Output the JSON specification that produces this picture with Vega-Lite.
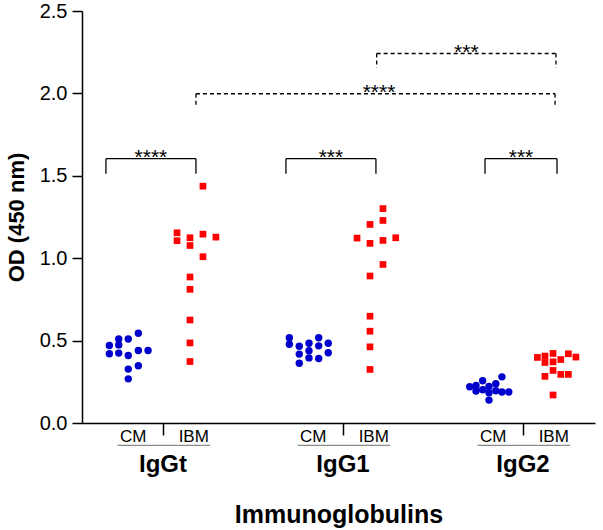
{
  "$schema": "https://vega.github.io/schema/vega-lite/v6.json",
  "width": 513,
  "height": 412,
  "autosize": {"type": "none"},
  "padding": {"left": 82, "top": 11, "right": 8, "bottom": 107},
  "background": "white",
  "config": {
    "view": {"stroke": null},
    "font": "Liberation Sans",
    "axis": {
      "domainColor": "black", "domainWidth": 1.5, "tickColor": "black", "tickWidth": 1.5,
      "labelColor": "black", "titleColor": "black", "grid": false,
      "labelFont": "Liberation Sans", "titleFont": "Liberation Sans"
    }
  },
  "datasets": {
    "points": [
      {"g":"IgGt","c":"CM","x":0.702,"od":0.47},{"g":"IgGt","c":"CM","x":0.754,"od":0.51},{"g":"IgGt","c":"CM","x":0.807,"od":0.51},{"g":"IgGt","c":"CM","x":0.863,"od":0.545},{"g":"IgGt","c":"CM","x":0.754,"od":0.474},{"g":"IgGt","c":"CM","x":0.702,"od":0.42},{"g":"IgGt","c":"CM","x":0.754,"od":0.424},{"g":"IgGt","c":"CM","x":0.807,"od":0.41},{"g":"IgGt","c":"CM","x":0.863,"od":0.44},{"g":"IgGt","c":"CM","x":0.917,"od":0.44},{"g":"IgGt","c":"CM","x":0.807,"od":0.327},{"g":"IgGt","c":"CM","x":0.863,"od":0.347},{"g":"IgGt","c":"CM","x":0.807,"od":0.268},
      {"g":"IgGt","c":"IBM","x":1.222,"od":1.437},{"g":"IgGt","c":"IBM","x":1.078,"od":1.154},{"g":"IgGt","c":"IBM","x":1.078,"od":1.106},{"g":"IgGt","c":"IBM","x":1.15,"od":1.124},{"g":"IgGt","c":"IBM","x":1.15,"od":1.077},{"g":"IgGt","c":"IBM","x":1.222,"od":1.146},{"g":"IgGt","c":"IBM","x":1.294,"od":1.128},{"g":"IgGt","c":"IBM","x":1.222,"od":1.009},{"g":"IgGt","c":"IBM","x":1.15,"od":0.886},{"g":"IgGt","c":"IBM","x":1.15,"od":0.811},{"g":"IgGt","c":"IBM","x":1.15,"od":0.625},{"g":"IgGt","c":"IBM","x":1.15,"od":0.486},{"g":"IgGt","c":"IBM","x":1.15,"od":0.373},
      {"g":"IgG1","c":"CM","x":1.702,"od":0.517},{"g":"IgG1","c":"CM","x":1.702,"od":0.478},{"g":"IgG1","c":"CM","x":1.757,"od":0.466},{"g":"IgG1","c":"CM","x":1.811,"od":0.484},{"g":"IgG1","c":"CM","x":1.865,"od":0.517},{"g":"IgG1","c":"CM","x":1.865,"od":0.468},{"g":"IgG1","c":"CM","x":1.918,"od":0.484},{"g":"IgG1","c":"CM","x":1.757,"od":0.418},{"g":"IgG1","c":"CM","x":1.811,"od":0.438},{"g":"IgG1","c":"CM","x":1.918,"od":0.426},{"g":"IgG1","c":"CM","x":1.811,"od":0.395},{"g":"IgG1","c":"CM","x":1.865,"od":0.391},{"g":"IgG1","c":"CM","x":1.757,"od":0.363},
      {"g":"IgG1","c":"IBM","x":2.222,"od":1.301},{"g":"IgG1","c":"IBM","x":2.222,"od":1.229},{"g":"IgG1","c":"IBM","x":2.15,"od":1.205},{"g":"IgG1","c":"IBM","x":2.078,"od":1.122},{"g":"IgG1","c":"IBM","x":2.15,"od":1.09},{"g":"IgG1","c":"IBM","x":2.222,"od":1.108},{"g":"IgG1","c":"IBM","x":2.293,"od":1.124},{"g":"IgG1","c":"IBM","x":2.222,"od":0.962},{"g":"IgG1","c":"IBM","x":2.15,"od":0.892},{"g":"IgG1","c":"IBM","x":2.15,"od":0.648},{"g":"IgG1","c":"IBM","x":2.15,"od":0.557},{"g":"IgG1","c":"IBM","x":2.15,"od":0.462},{"g":"IgG1","c":"IBM","x":2.15,"od":0.325},
      {"g":"IgG2","c":"CM","x":2.883,"od":0.28},{"g":"IgG2","c":"CM","x":2.776,"od":0.256},{"g":"IgG2","c":"CM","x":2.849,"od":0.238},{"g":"IgG2","c":"CM","x":2.704,"od":0.22},{"g":"IgG2","c":"CM","x":2.739,"od":0.228},{"g":"IgG2","c":"CM","x":2.811,"od":0.222},{"g":"IgG2","c":"CM","x":2.739,"od":0.194},{"g":"IgG2","c":"CM","x":2.776,"od":0.202},{"g":"IgG2","c":"CM","x":2.811,"od":0.184},{"g":"IgG2","c":"CM","x":2.849,"od":0.196},{"g":"IgG2","c":"CM","x":2.883,"od":0.188},{"g":"IgG2","c":"CM","x":2.921,"od":0.188},{"g":"IgG2","c":"CM","x":2.811,"od":0.139},
      {"g":"IgG2","c":"IBM","x":3.08,"od":0.398},{"g":"IgG2","c":"IBM","x":3.122,"od":0.406},{"g":"IgG2","c":"IBM","x":3.122,"od":0.367},{"g":"IgG2","c":"IBM","x":3.167,"od":0.422},{"g":"IgG2","c":"IBM","x":3.167,"od":0.371},{"g":"IgG2","c":"IBM","x":3.21,"od":0.385},{"g":"IgG2","c":"IBM","x":3.252,"od":0.42},{"g":"IgG2","c":"IBM","x":3.294,"od":0.4},{"g":"IgG2","c":"IBM","x":3.122,"od":0.283},{"g":"IgG2","c":"IBM","x":3.167,"od":0.319},{"g":"IgG2","c":"IBM","x":3.21,"od":0.295},{"g":"IgG2","c":"IBM","x":3.252,"od":0.295},{"g":"IgG2","c":"IBM","x":3.167,"od":0.17}
    ],
    "brackets": [
      {"x1":0.683,"x2":1.183,"mid":0.933,"top":1.604,"leg":1.513,"stars":"****","style":"solid"},
      {"x1":1.683,"x2":2.183,"mid":1.933,"top":1.604,"leg":1.513,"stars":"***","style":"solid"},
      {"x1":2.789,"x2":3.189,"mid":2.989,"top":1.604,"leg":1.513,"stars":"***","style":"solid"},
      {"x1":1.183,"x2":3.178,"mid":2.2,"top":1.998,"leg":1.913,"stars":"****","style":"dashed"},
      {"x1":2.187,"x2":3.183,"mid":2.685,"top":2.242,"leg":2.155,"stars":"***","style":"dashed"}
    ],
    "groups": [
      {"g":"IgGt","x":1,"lo":0.748,"hi":1.262},
      {"g":"IgG1","x":2,"lo":1.748,"hi":2.262},
      {"g":"IgG2","x":3,"lo":2.748,"hi":3.262}
    ]
  },
  "layer": [
    {
      "data": {"name": "groups"},
      "mark": {"type": "rule", "color": "#8a8a8a", "strokeWidth": 1.2},
      "encoding": {
        "x": {"field": "lo", "type": "quantitative", "scale": {"domain": [0.55, 3.4]}},
        "x2": {"field": "hi"},
        "y": {"datum": -0.136, "type": "quantitative"}
      }
    },
    {
      "data": {"name": "groups"},
      "mark": {"type": "text", "fontSize": 24, "fontWeight": "bold", "color": "black", "baseline": "alphabetic"},
      "encoding": {
        "x": {"field": "x", "type": "quantitative"},
        "y": {"datum": -0.297, "type": "quantitative"},
        "text": {"field": "g"}
      }
    },
    {
      "data": {"name": "points"},
      "mark": {"type": "point", "filled": true, "opacity": 1},
      "encoding": {
        "x": {
          "field": "x", "type": "quantitative",
          "scale": {"domain": [0.55, 3.4], "nice": false, "zero": false},
          "axis": {
            "title": "Immunoglobulins",
            "values": [0.832, 1, 1.168, 1.832, 2, 2.168, 2.832, 3, 3.168],
            "labelExpr": "abs(datum.value % 1 - 0.832) < 0.01 ? 'CM' : (abs(datum.value % 1 - 0.168) < 0.01 ? 'IBM' : '')",
            "tickSize": 12,
            "tickOpacity": {"condition": {"test": "abs(datum.value % 1) < 0.01", "value": 1}, "value": 0},
            "labelFontSize": 17,
            "labelPadding": -7,
            "labelFlush": false,
            "labelOverlap": false,
            "titleFontSize": 25,
            "titleFontWeight": "bold",
            "titlePadding": 58
          }
        },
        "y": {
          "field": "od", "type": "quantitative",
          "scale": {"domain": [0, 2.5], "nice": false},
          "axis": {
            "title": "OD (450 nm)",
            "values": [0, 0.5, 1, 1.5, 2, 2.5],
            "format": ".1f",
            "tickSize": 10,
            "labelFontSize": 20,
            "labelPadding": 5,
            "titleFontSize": 22,
            "titleFontWeight": "bold",
            "titlePadding": 11
          }
        },
        "shape": {"field": "c", "type": "nominal", "scale": {"domain": ["CM", "IBM"], "range": ["circle", "square"]}, "legend": null},
        "color": {"field": "c", "type": "nominal", "scale": {"domain": ["CM", "IBM"], "range": ["#0000cc", "#ff0000"]}, "legend": null},
        "size": {"field": "c", "type": "nominal", "scale": {"domain": ["CM", "IBM"], "range": [55, 45]}, "legend": null}
      }
    },
    {
      "data": {"name": "brackets"},
      "mark": {"type": "rule", "color": "black", "strokeWidth": 1.3},
      "encoding": {
        "x": {"field": "x1", "type": "quantitative"},
        "x2": {"field": "x2"},
        "y": {"field": "top", "type": "quantitative"},
        "strokeDash": {"field": "style", "type": "nominal", "scale": {"domain": ["solid", "dashed"], "range": [[1, 0], [4, 3]]}, "legend": null}
      }
    },
    {
      "data": {"name": "brackets"},
      "mark": {"type": "rule", "color": "black", "strokeWidth": 1.3},
      "encoding": {
        "x": {"field": "x1", "type": "quantitative"},
        "y": {"field": "top", "type": "quantitative"},
        "y2": {"field": "leg"},
        "strokeDash": {"field": "style", "type": "nominal", "legend": null}
      }
    },
    {
      "data": {"name": "brackets"},
      "mark": {"type": "rule", "color": "black", "strokeWidth": 1.3},
      "encoding": {
        "x": {"field": "x2", "type": "quantitative"},
        "y": {"field": "top", "type": "quantitative"},
        "y2": {"field": "leg"},
        "strokeDash": {"field": "style", "type": "nominal", "legend": null}
      }
    },
    {
      "data": {"name": "brackets"},
      "mark": {"type": "text", "fontSize": 21, "color": "black", "baseline": "alphabetic", "dy": 5},
      "encoding": {
        "x": {"field": "mid", "type": "quantitative"},
        "y": {"field": "top", "type": "quantitative"},
        "text": {"field": "stars"}
      }
    }
  ]
}
